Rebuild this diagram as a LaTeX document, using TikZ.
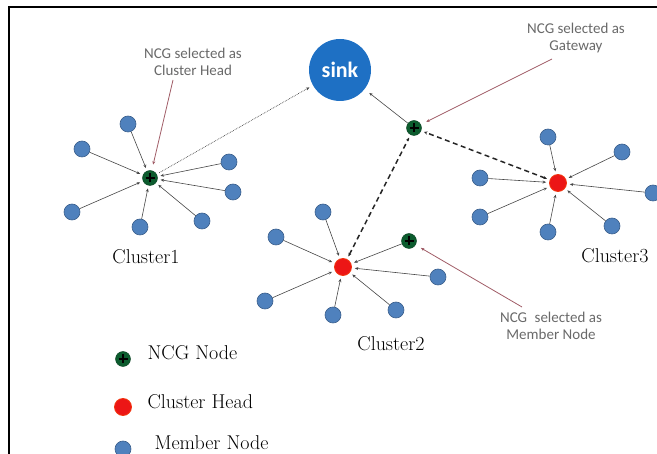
\documentclass[tikz,border=0pt]{standalone}
\usepackage{fontspec}
\newfontfamily\notefont{Carlito}
\usepackage{tikz}
\usetikzlibrary{positioning,arrows.meta}
\definecolor{memberblue}{RGB}{79,129,189}
\definecolor{memberedge}{RGB}{58,95,140}
\definecolor{sinkblue}{RGB}{30,112,196}
\definecolor{headred}{RGB}{236,22,22}
\definecolor{ncggreen}{RGB}{12,92,46}
\definecolor{linkgray}{RGB}{70,70,70}
\definecolor{pointerrose}{RGB}{160,92,102}
\definecolor{notegray}{RGB}{105,105,105}

\begin{document}
\begin{tikzpicture}[
    x=1pt, y=-1pt,
    member/.style={circle, fill=memberblue, draw=memberedge, line width=0.6pt,
      minimum size=16pt, inner sep=0pt},
    head/.style={circle, fill=headred, draw=headred!70!orange, line width=0.8pt,
      minimum size=17pt, inner sep=0pt},
    ncg/.style={circle, fill=ncggreen, draw=ncggreen!70!black, minimum size=15pt,
      inner sep=0pt,
      path picture={\draw[black, line width=1.8pt]
        ([xshift=-4.5pt]path picture bounding box.center) -- ([xshift=4.5pt]path picture bounding box.center)
        ([yshift=-4.5pt]path picture bounding box.center) -- ([yshift=4.5pt]path picture bounding box.center);}},
    sinknode/.style={circle, fill=sinkblue, minimum size=62pt, inner sep=0pt, text=white,
      font=\notefont\bfseries\fontsize{22}{24}\selectfont},
    note/.style={font=\notefont\fontsize{15}{17}\selectfont, text=notegray, align=center},
    clabel/.style={font=\fontsize{20}{24}\selectfont},
    legendtext/.style={font=\fontsize{20}{24}\selectfont, anchor=west},
    link/.style={-{Stealth[length=3.5pt,width=3pt]}, draw=linkgray, line width=0.6pt,
      shorten >=3pt},
    uplink/.style={-{Stealth[length=3.5pt,width=3pt]}, draw=linkgray, line width=0.7pt,
      densely dotted, shorten >=4pt, shorten <=3pt},
    relay/.style={{Stealth[length=3.5pt,width=3pt]}-{Stealth[length=3.5pt,width=3pt]},
      draw=black!85, line width=1.5pt, dash pattern=on 5pt off 3.5pt,
      shorten >=3pt, shorten <=3pt},
    pointer/.style={-{Stealth[length=3.5pt,width=3pt]}, draw=pointerrose, line width=0.8pt,
      shorten >=6pt}
  ]
    \useasboundingbox (0,0) rectangle (657,454);
    \draw[line width=2pt] (9,454) -- (9,7) -- (657,7);

    % sink and gateway
    \node[sinknode] (sink) at (340,70) {sink};
    \node[ncg] (gw) at (414,128) {};

    % cluster 1
    \node[ncg] (ch1) at (150,178) {};
    \node[member] (m1a) at (128,124) {};
    \node[member] (m1b) at (82,149) {};
    \node[member] (m1c) at (229,162) {};
    \node[member] (m1d) at (233,192) {};
    \node[member] (m1e) at (72,212) {};
    \node[member] (m1f) at (140,227) {};
    \node[member] (m1g) at (202,221) {};
    \node[clabel] (lab1) at (146,257) {Cluster1};

    % cluster 2
    \node[head] (ch2) at (343,267) {};
    \node[member] (m2a) at (323,212) {};
    \node[member] (m2b) at (276,237) {};
    \node[ncg] (ncg2) at (409,241) {};
    \node[member] (m2c) at (438,277) {};
    \node[member] (m2d) at (265,301) {};
    \node[member] (m2e) at (333,315) {};
    \node[member] (m2f) at (396,310) {};
    \node[clabel] (lab2) at (391,344) {Cluster2};

    % cluster 3
    \node[head] (ch3) at (558,183) {};
    \node[member] (m3a) at (548,137) {};
    \node[member] (m3b) at (622,152) {};
    \node[member] (m3c) at (480,178) {};
    \node[member] (m3d) at (653,193) {};
    \node[member] (m3e) at (480,217) {};
    \node[member] (m3f) at (548,232) {};
    \node[member] (m3g) at (612,226) {};
    \node[clabel] (lab3) at (615,256) {Cluster3};

    % notes
    \node[note] (note1) at (193,62) {NCG selected as\\Cluster Head};
    \node[note] (note2) at (576,38) {NCG selected as\\Gateway};
    \node[note] (note3) at (551,326) {NCG\enspace selected as\\Member Node};
    \coordinate (tip1) at (173,80);
    \coordinate (tip2) at (552,59);
    \coordinate (tip3) at (522,307);

    % legend
    \node[ncg] (lg1) at (123,359) {};
    \node[head] (lg2) at (123,407) {};
    \node[member] (lg3) at (123,449) {};
    \node[legendtext] (lt1) at (144,353) {NCG Node};
    \node[legendtext] (lt2) at (144,402) {Cluster Head};
    \node[legendtext] (lt3) at (151,443) {Member Node};

    % members to heads
    \draw[link] (m1a) -- (ch1);
    \draw[link] (m1b) -- (ch1);
    \draw[link] (m1c) -- (ch1);
    \draw[link] (m1d) -- (ch1);
    \draw[link] (m1e) -- (ch1);
    \draw[link] (m1f) -- (ch1);
    \draw[link] (m1g) -- (ch1);
    \draw[link] (m2a) -- (ch2);
    \draw[link] (m2b) -- (ch2);
    \draw[link] (ncg2) -- (ch2);
    \draw[link] (m2c) -- (ch2);
    \draw[link] (m2d) -- (ch2);
    \draw[link] (m2e) -- (ch2);
    \draw[link] (m2f) -- (ch2);
    \draw[link] (m3a) -- (ch3);
    \draw[link] (m3b) -- (ch3);
    \draw[link] (m3c) -- (ch3);
    \draw[link] (m3d) -- (ch3);
    \draw[link] (m3e) -- (ch3);
    \draw[link] (m3f) -- (ch3);
    \draw[link] (m3g) -- (ch3);

    % heads to sink
    \draw[uplink] (ch1) -- (sink);
    \draw[link, shorten >=6pt] (gw) -- (sink);
    \draw[relay] (ch2) -- (gw);
    \draw[relay] (ch3) -- (gw);

    % pointers
    \draw[pointer] (tip1) -- (ch1);
    \draw[pointer] (tip2) -- (gw);
    \draw[pointer] (tip3) -- (ncg2);
  \end{tikzpicture}
\end{document}
